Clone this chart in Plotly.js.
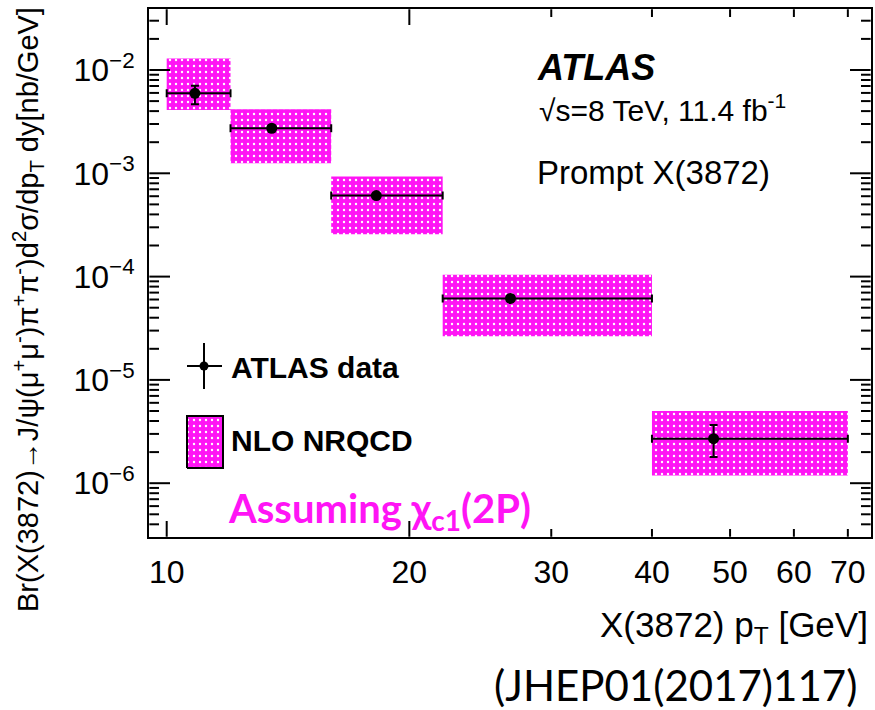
<!DOCTYPE html>
<html>
<head>
<meta charset="utf-8">
<script src="https://cdn.plot.ly/plotly-3.0.1.min.js"></script>
<style>html,body{margin:0;padding:0;background:#fff;}#chart{width:875px;height:710px;}</style>
</head>
<body>
<div id="chart"></div>
<script>
// ---- data ----
const binLo   = [10, 12, 16, 22, 40];
const binHi   = [12, 16, 22, 40, 70];
const dataX   = [10.84, 13.5, 18.2, 26.7, 47.7];
const dataY   = [5.95e-3, 2.73e-3, 6.08e-4, 6.14e-5, 2.70e-6];
const errUp   = [1.10e-3, 1.4e-4, 3.0e-5, 3.0e-6, 0.95e-6];
const errDown = [1.29e-3, 1.4e-4, 3.0e-5, 3.0e-6, 0.91e-6];
const nrqcdLo = [4.09e-3, 1.25e-3, 2.57e-4, 2.65e-5, 1.19e-6];
const nrqcdHi = [1.29e-2, 4.16e-3, 9.3e-4, 1.04e-4, 4.99e-6];
const xTickVals  = [10, 20, 30, 40, 50, 60, 70];
const xTickText  = ['10', '20', '30', '40', '50', '60', '70'];
const xLongTicks = [10, 20];
const yTickVals  = [1e-6, 1e-5, 1e-4, 1e-3, 1e-2];
const yTickText  = ['10<sup>−6</sup>', '10<sup>−5</sup>', '10<sup>−4</sup>', '10<sup>−3</sup>', '10<sup>−2</sup>'];

// ---- geometry helpers (pixel -> paper) ----
const W = 875, H = 710;
const M = {l: 149, r: 4, t: 9, b: 173};
const PW = W - M.l - M.r, PH = H - M.t - M.b;
const px = x => (x - M.l) / PW;
const py = y => (H - M.b - y) / PH;

const xRange = [0.97804, 1.87382];
const yRange = [-6.5208, -1.4095];
// paper fraction -> axis value
const fx = f => Math.pow(10, xRange[0] + f * (xRange[1] - xRange[0]));
const fy = f => Math.pow(10, yRange[0] + f * (yRange[1] - yRange[0]));

// minor y ticks (2..9 x 10^n)
const yMinor = [];
for (let e = -7; e <= -2; e++) {
  for (let m = 2; m <= 9; m++) {
    const v = m * Math.pow(10, e);
    if (Math.log10(v) > yRange[0] + 0.005 && Math.log10(v) < yRange[1] - 0.005) yMinor.push(v);
  }
}

// theory boxes as polygons
const boxX = [], boxY = [];
for (let i = 0; i < binLo.length; i++) {
  boxX.push(binLo[i], binHi[i], binHi[i], binLo[i], binLo[i], null);
  boxY.push(nrqcdLo[i], nrqcdLo[i], nrqcdHi[i], nrqcdHi[i], nrqcdLo[i], null);
}

// tick marks on all four sides, as line segments
const tkX = [], tkY = [];
const eps = 0.0005;
xTickVals.forEach(v => {
  const L = (xLongTicks.indexOf(v) >= 0 ? 16 : 8) / PH;
  tkX.push(v, v, null, v, v, null);
  tkY.push(fy(eps), fy(L), null, fy(1 - eps), fy(1 - L), null);
});
yTickVals.forEach(v => {
  const L = 21 / PW;
  tkX.push(fx(eps), fx(L), null, fx(1 - eps), fx(1 - L), null);
  tkY.push(v, v, null, v, v, null);
});
yMinor.forEach(v => {
  const L = 10 / PW;
  tkX.push(fx(eps), fx(L), null, fx(1 - eps), fx(1 - L), null);
  tkY.push(v, v, null, v, v, null);
});

const MAG = '#ff14f5';
const pattern = {shape: '.', fgcolor: '#ffffff', bgcolor: MAG, size: 6, solidity: 0.12};

const lgX0 = fx(px(187)), lgX1 = fx(px(223)), lgY0 = fy(py(468)), lgY1 = fy(py(416));

const traces = [
  {
    x: boxX, y: boxY, type: 'scatter', mode: 'lines', fill: 'toself',
    fillcolor: MAG, fillpattern: pattern,
    line: {width: 0, color: MAG}, hoverinfo: 'skip', showlegend: false
  },
  {
    x: dataX, y: dataY, type: 'scatter', mode: 'markers',
    marker: {color: '#000', size: 11},
    error_x: {type: 'data', array: binHi.map((h, i) => h - dataX[i]), arrayminus: binLo.map((l, i) => dataX[i] - l),
              color: '#000', thickness: 2, width: 4},
    error_y: {type: 'data', array: errUp, arrayminus: errDown, color: '#000', thickness: 2, width: 4},
    showlegend: false
  },
  // legend glyph for NLO NRQCD (box placed in the legend area)
  {x: [lgX0, lgX1, lgX1, lgX0, lgX0], y: [lgY0, lgY0, lgY1, lgY1, lgY0], type: 'scatter', mode: 'lines',
   fill: 'toself', fillcolor: MAG, fillpattern: pattern, line: {color: '#000', width: 2},
   hoverinfo: 'skip', showlegend: false},
  // frame tick marks
  {x: tkX, y: tkY, type: 'scatter', mode: 'lines', connectgaps: false,
   line: {color: '#000', width: 2}, hoverinfo: 'skip', showlegend: false, cliponaxis: false}
];

const FONT = 'Liberation Sans, Arial, sans-serif';
const ln = () => ({color: '#000', width: 2});

const layout = {
  width: W, height: H, margin: {l: M.l, r: M.r, t: M.t, b: M.b, pad: 0},
  paper_bgcolor: '#fff', plot_bgcolor: 'rgba(0,0,0,0)',
  showlegend: false,
  font: {family: FONT, color: '#000', size: 32},
  xaxis: {
    type: 'log', range: xRange, showgrid: false, zeroline: false,
    showline: true, linecolor: '#000', linewidth: 2, mirror: true,
    ticks: '', tickmode: 'array', tickvals: xTickVals, ticktext: xTickText,
    tickfont: {family: FONT, size: 32, color: '#000'}, ticklabelstandoff: 6
  },
  yaxis: {
    type: 'log', range: yRange, showgrid: false, zeroline: false,
    showline: true, linecolor: '#000', linewidth: 2, mirror: true,
    ticks: '', tickmode: 'array', tickvals: yTickVals, ticktext: yTickText,
    tickfont: {family: FONT, size: 32, color: '#000'}, ticklabelstandoff: 6
  },
  shapes: [
    {type: 'line', xref: 'paper', yref: 'paper', x0: px(204), x1: px(204), y0: py(343), y1: py(389), line: ln()},
    {type: 'line', xref: 'paper', yref: 'paper', x0: px(187), x1: px(222), y0: py(366), y1: py(366), line: ln()},
    {type: 'circle', xref: 'paper', yref: 'paper', x0: px(199.5), x1: px(208.5), y0: py(361.5), y1: py(370.5), fillcolor: '#000', line: {color: '#000', width: 0}}
  ],
  annotations: [
    {text: '<b><i>ATLAS</i></b>', xref: 'paper', yref: 'paper', x: px(535), y: py(68), xanchor: 'left', yanchor: 'middle',
     showarrow: false, font: {family: FONT, size: 36, color: '#000'}},
    {text: '√s=8 TeV, 11.4 fb<sup>-1</sup>', xref: 'paper', yref: 'paper', x: px(537), y: py(108), xanchor: 'left', yanchor: 'middle',
     showarrow: false, font: {family: FONT, size: 30, color: '#000'}},
    {text: 'Prompt X(3872)', xref: 'paper', yref: 'paper', x: px(535), y: py(172), xanchor: 'left', yanchor: 'middle',
     showarrow: false, font: {family: FONT, size: 33, color: '#000'}},
    {text: '<b>ATLAS data</b>', xref: 'paper', yref: 'paper', x: px(229), y: py(367), xanchor: 'left', yanchor: 'middle',
     showarrow: false, font: {family: FONT, size: 30, color: '#000'}},
    {text: '<b>NLO NRQCD</b>', xref: 'paper', yref: 'paper', x: px(229), y: py(441), xanchor: 'left', yanchor: 'middle',
     showarrow: false, font: {family: FONT, size: 30, color: '#000'}},
    {text: '<b>Assuming χ<sub>c1</sub>(2P)</b>', xref: 'paper', yref: 'paper', x: px(226), y: py(510), xanchor: 'left', yanchor: 'middle',
     showarrow: false, font: {family: 'Lato, Open Sans, sans-serif', size: 40, color: MAG}},
    {text: 'X(3872) p<sub>T</sub> [GeV]', xref: 'paper', yref: 'paper', x: px(870), y: py(627), xanchor: 'right', yanchor: 'middle',
     showarrow: false, font: {family: FONT, size: 35, color: '#000'}},
    {text: '(JHEP01(2017)117)', xref: 'paper', yref: 'paper', x: px(859), y: py(685), xanchor: 'right', yanchor: 'middle',
     showarrow: false, font: {family: 'Lato, Open Sans, sans-serif', size: 42, color: '#000'}},
    {text: 'Br(X(3872)→J/ψ(μ<sup>+</sup>μ<sup>-</sup>)π<sup>+</sup>π<sup>-</sup>)d<sup>2</sup>σ/dp<sub>T</sub> dy[nb/GeV]',
     xref: 'paper', yref: 'paper', x: px(28), y: py(310), xanchor: 'center', yanchor: 'middle', textangle: -90,
     showarrow: false, font: {family: FONT, size: 29, color: '#000'}}
  ]
};

Plotly.newPlot('chart', traces, layout, {staticPlot: true, displayModeBar: false});
</script>
</body>
</html>
